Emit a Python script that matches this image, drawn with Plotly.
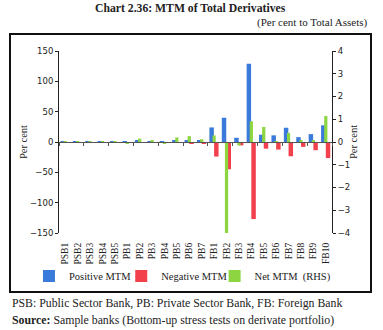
import plotly.graph_objects as go

categories = ["PSB1", "PSB2", "PSB3", "PSB4", "PSB5",
              "PB1", "PB2", "PB3", "PB4", "PB5", "PB6", "PB7",
              "FB1", "FB2", "FB3", "FB4", "FB5", "FB6", "FB7", "FB8", "FB9", "FB10"]
positive_mtm = [0.3, 0.5, 0.4, 0.3, 0.5,
                0.6, 2.0, 0.8, 0.5, 2.0, 3.0, 2.5,
                24, 40, 7, 129, 12, 11, 23.5, 8, 13, 27.5]
negative_mtm = [-0.3, -0.5, -0.4, -0.3, -0.5,
                -0.8, -1.5, -0.6, -0.8, -1.5, -2.5, -2.0,
                -24, -45, -5.5, -127, -11, -12.5, -23.5, -8, -13.5, -26.5]
net_mtm_rhs = [0.01, 0.03, 0.03, 0.02, 0.02,
               -0.07, 0.15, 0.09, -0.05, 0.2, 0.26, 0.12,
               0.29, -4.0, -0.15, 0.91, 0.66, 0.04, 0.4, 0.06, 0.05, 1.14]
left_ticks = [-150, -100, -50, 0, 50, 100, 150]
right_ticks = [-4, -3, -2, -1, 0, 1, 2, 3, 4]

BLUE = "#3A7ADA"
RED = "#F2404C"
GREEN = "#8DD642"
SERIF = "Liberation Serif"
SANS = "DejaVu Sans"

fig = go.Figure()
fig.add_trace(go.Bar(x=categories, y=positive_mtm, name="Positive MTM",
                     marker=dict(color=BLUE, line=dict(width=0)),
                     width=0.36, offset=-0.38, xaxis="x", yaxis="y", legend="legend"))
fig.add_trace(go.Bar(x=categories, y=negative_mtm, name="Negative MTM",
                     marker=dict(color=RED, line=dict(width=0)),
                     width=0.36, offset=0.0, xaxis="x", yaxis="y", legend="legend2"))
fig.add_trace(go.Bar(x=categories, y=net_mtm_rhs, name="Net MTM  (RHS)",
                     marker=dict(color=GREEN, line=dict(width=0)),
                     width=0.26, offset=-0.13, xaxis="x2", yaxis="y2", legend="legend3"))

legend_common = dict(orientation="h", y=-0.236, xanchor="left", yanchor="middle",
                     font=dict(family=SERIF, size=10.5, color="#222"),
                     itemwidth=30, bgcolor="rgba(0,0,0,0)")

n = len(categories)
fig.update_layout(
    width=383, height=330,
    margin=dict(l=59, r=51, t=51, b=97),
    paper_bgcolor="white", plot_bgcolor="white",
    barmode="overlay",
    showlegend=True,
    legend=dict(x=-0.11, **legend_common),
    legend2=dict(x=0.228, **legend_common),
    legend3=dict(x=0.57, **legend_common),
    xaxis=dict(type="category", range=[-0.5, n - 0.5], anchor="y",
               showline=False, ticks="outside", ticklen=5, tickcolor="rgba(0,0,0,0)",
               showgrid=False, zeroline=False,
               tickangle=-90,
               tickfont=dict(family=SERIF, size=9.5, color="#222")),
    xaxis2=dict(type="category", overlaying="x", range=[-0.5, n - 0.5],
                anchor="free", position=0.5,
                showline=True, linecolor="#555", linewidth=1,
                ticks="outside", tickson="boundaries", ticklen=3, tickcolor="#555",
                showticklabels=False, showgrid=False, zeroline=False),
    yaxis=dict(range=[-150, 150], tickvals=left_ticks, anchor="x",
               showline=True, linecolor="#222", linewidth=1,
               ticks="outside", ticklen=3, tickcolor="#222",
               showgrid=False, zeroline=False,
               tickfont=dict(family=SANS, size=8.5, color="#222"),
               title=dict(text="Per cent", font=dict(family=SERIF, size=10.5, color="#222"),
                          standoff=0)),
    yaxis2=dict(range=[-4, 4], tickvals=right_ticks, overlaying="y", side="right",
                anchor="x2",
                showline=True, linecolor="#222", linewidth=1,
                ticks="outside", ticklen=3, tickcolor="#222",
                showgrid=False, zeroline=False,
                tickfont=dict(family=SANS, size=8.5, color="#222"),
                title=dict(text="Per cent", font=dict(family=SERIF, size=10.5, color="#222"),
                           standoff=0)),
    annotations=[
        dict(text='<b>Chart 2.36: MTM of Total Derivatives</b>',
             xref="paper", yref="paper",
             x=0.48, y=1.236, xanchor="center", yanchor="middle", showarrow=False,
             font=dict(family=SERIF, size=11.7, color="#222")),
        dict(text="(Per cent to Total Assets)", xref="paper", yref="paper",
             x=1.14, y=1.155, xanchor="right", yanchor="middle", showarrow=False,
             font=dict(family=SERIF, size=11, color="#222")),
        dict(text='PSB: Public Sector Bank, PB: Private Sector Bank, FB: Foreign Bank',
             xref="paper", yref="paper", x=-0.18, y=-0.385, xanchor="left", yanchor="middle",
             showarrow=False, font=dict(family=SERIF, size=11.8, color="#222")),
        dict(text='<b>Source:</b> Sample banks (Bottom-up stress tests on derivate portfolio)',
             xref="paper", yref="paper", x=-0.18, y=-0.478, xanchor="left", yanchor="middle",
             showarrow=False, font=dict(family=SERIF, size=11.8, color="#222")),
    ],
    shapes=[
        dict(type="rect", xref="paper", yref="paper", x0=-0.1795, x1=1.1429, y0=-0.324, y1=1.0934,
             line=dict(color="#111", width=2), fillcolor="rgba(0,0,0,0)", layer="below"),
    ],
)

fig.write_html("out.html")
